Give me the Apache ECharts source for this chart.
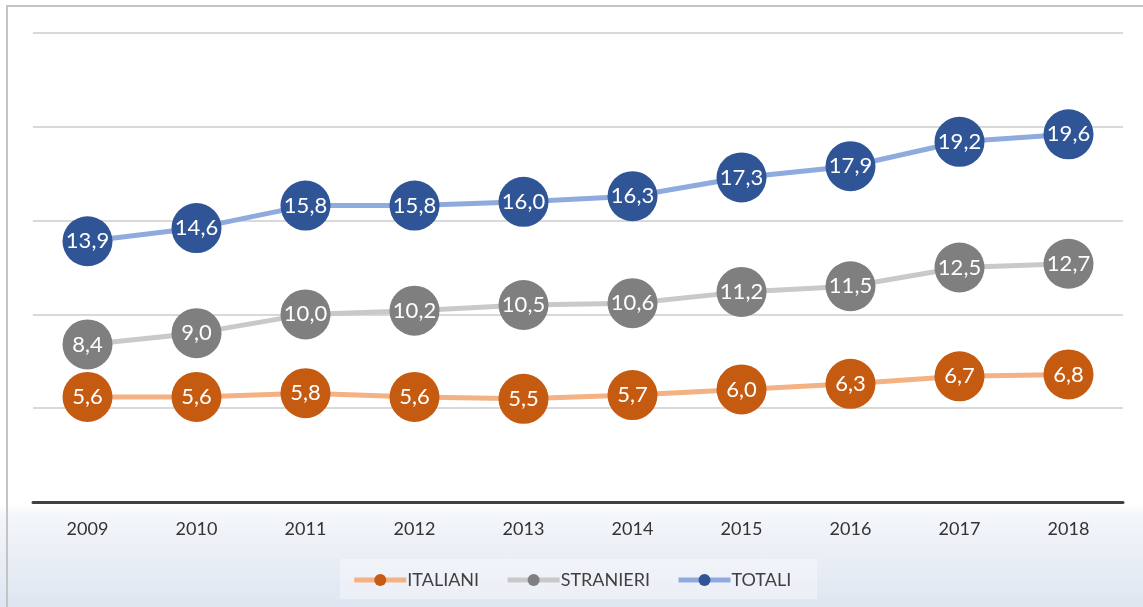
<!DOCTYPE html>
<html><head><meta charset="utf-8">
<script src="https://cdn.jsdelivr.net/npm/echarts@6/dist/echarts.min.js"></script>
<style>
html,body{margin:0;padding:0;}
body{width:1143px;height:607px;overflow:hidden;background:linear-gradient(to bottom,#ffffff 0px,#ffffff 505px,#f3f6fa 515px,#dfe6f1 607px);}
#c{width:1143px;height:607px;}
</style></head><body>
<div id="c"></div>
<script>
const categories = ['2009','2010','2011','2012','2013','2014','2015','2016','2017','2018'];
const italiani = [5.6,5.6,5.8,5.6,5.5,5.7,6.0,6.3,6.7,6.8];
const stranieri = [8.4,9.0,10.0,10.2,10.5,10.6,11.2,11.5,12.5,12.7];
const totali = [13.9,14.6,15.8,15.8,16.0,16.3,17.3,17.9,19.2,19.6];

const FONT = 'Lato, "Open Sans", sans-serif';
function mk(name, data, lineColor, dotColor){
  return {
    name, type:'line', data,
    symbol:'circle', symbolSize:50,
    lineStyle:{color:lineColor, width:5},
    itemStyle:{color:dotColor},
    label:{show:true, position:'inside', color:'#fff', fontSize:22, fontFamily:FONT,
      formatter:p=>p.value.toFixed(1).replace('.',',')},
    emphasis:{disabled:true},
    animation:false
  };
}
const chart = echarts.init(document.getElementById('c'));
chart.setOption({
  backgroundColor:'transparent',
  graphic:[
    {type:'rect', shape:{x:340,y:559,width:477,height:40}, style:{fill:'rgba(255,255,255,0.35)'}, z:-1},
    {type:'rect', shape:{x:7,y:6,width:1160,height:640}, style:{fill:'none',stroke:'#c4c4c4',lineWidth:2}, silent:true}
  ],
  grid:{left:33, right:20, top:33, bottom:105, containLabel:false},
  legend:{
    data:['ITALIANI','STRANIERI','TOTALI'],
    bottom:13, left:'center', itemWidth:52, itemHeight:15, itemGap:26,
    lineStyle:{width:5},
    textStyle:{color:'#404040', fontSize:18, fontFamily:FONT, padding:[0,0,0,-4]}
  },
  xAxis:{
    type:'category', data:categories, boundaryGap:true,
    axisLine:{lineStyle:{color:'#404040', width:3}},
    axisTick:{show:false},
    axisLabel:{color:'#333', fontSize:18, fontFamily:FONT, margin:18}
  },
  yAxis:{
    type:'value', min:0, max:25, interval:5,
    axisLabel:{show:false}, axisLine:{show:false}, axisTick:{show:false},
    splitLine:{lineStyle:{color:'#d9d9d9', width:2}}
  },
  series:[
    mk('ITALIANI', italiani, '#F4B183', '#C55A11'),
    mk('STRANIERI', stranieri, '#C9C9C9', '#7F7F7F'),
    mk('TOTALI', totali, '#8FAADC', '#2F5597')
  ]
});
</script></body></html>
